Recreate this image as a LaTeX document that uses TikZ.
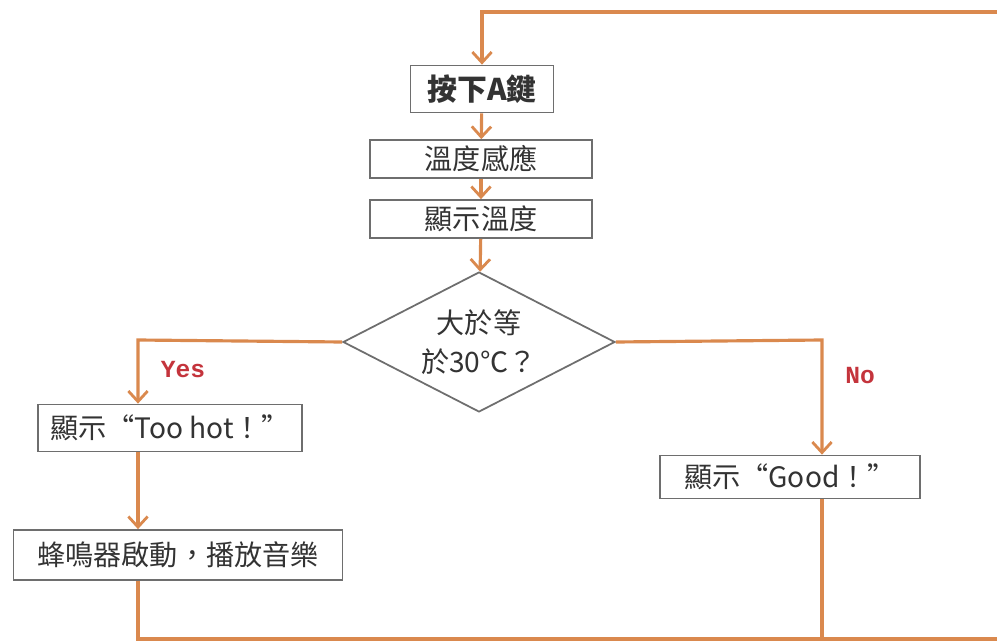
\documentclass[tikz,border=0pt]{standalone}
\usepackage{fontspec}
\setmainfont{Noto Sans CJK TC}
\newfontfamily\latinmono{Liberation Mono}
\usepackage{tikz}
\usetikzlibrary{shapes.geometric,arrows.meta}
\definecolor{flowline}{RGB}{218,137,78}
\definecolor{boxline}{RGB}{110,110,110}
\definecolor{answer}{RGB}{196,52,60}
\tikzset{
  stepbox/.style  = { draw=boxline, line width=1pt, fill=white, text=black!80,
                      font=\fontsize{16}{19}\selectfont, inner sep=0pt },
  decide/.style   = { stepbox, diamond, aspect=1.94, align=center, font=\fontsize{16}{22}\selectfont },
  flow/.style     = { draw=flowline, line width=1.8pt },
  go/.style       = { flow, -{Straight Barb[length=6pt,width=11pt,line width=1.6pt]} },
  answerlabel/.style = { text=answer, font=\latinmono\bfseries\fontsize{14}{16}\selectfont }
}

\begin{document}
\begin{tikzpicture}[x=0.02cm,y=-0.02cm]
  \useasboundingbox (0,0) rectangle (997,642);
  % Draw all steps
  \node[stepbox, minimum width=2.86cm, minimum height=0.94cm, font=\bfseries\fontsize{17}{19}\selectfont] (presskey) at (482,89) {按下A鍵};
  \node[stepbox, minimum width=4.44cm, minimum height=0.76cm] (sense) at (481,159) {溫度感應};
  \node[stepbox, minimum width=4.44cm, minimum height=0.76cm] (showtemp) at (481,219) {顯示溫度};
  \node[decide, minimum width=5.44cm, minimum height=2.8cm] (check) at (479,342) {大於等\\於30℃？};
  \node[stepbox, minimum width=5.28cm, minimum height=0.94cm] (toohot) at (170,428) {顯示“Too hot！”};
  \node[stepbox, minimum width=6.58cm, minimum height=1.0cm] (buzzer) at (178,555) {蜂鳴器啟動，播放音樂};
  \node[stepbox, minimum width=5.2cm, minimum height=0.86cm] (good) at (790,477) {顯示“Good！”};
  % Corners of the connectors
  \coordinate (yesturn) at (138,340);
  \coordinate (noturn) at (822,340);
  \coordinate (bottomleft) at (138,639);
  \coordinate (bottomright) at (1003,639);
  \coordinate (topright) at (1003,12);
  \coordinate (topleft) at (482,12);
  % Draw connectors
  \draw[go] (presskey) -- (sense);
  \draw[go] (sense) -- (showtemp);
  \draw[go] (showtemp) -- (check);
  \draw[go] (check.west) -- (yesturn) -- (yesturn |- toohot.north);
  \draw[go] (check.east) -- (noturn) -- (noturn |- good.north);
  \draw[go] (yesturn |- toohot.south) -- (yesturn |- buzzer.north);
  \draw[flow] (noturn |- good.south) -- (noturn |- bottomright);
  \draw[go] (yesturn |- buzzer.south) -- (bottomleft) -- (bottomright) -- (topright) -- (topleft) -- (presskey);
  % Draw labels
  \node[answerlabel] (yes) at (183,370) {Yes};
  \node[answerlabel] (no) at (860,376) {No};
\end{tikzpicture}
\end{document}
